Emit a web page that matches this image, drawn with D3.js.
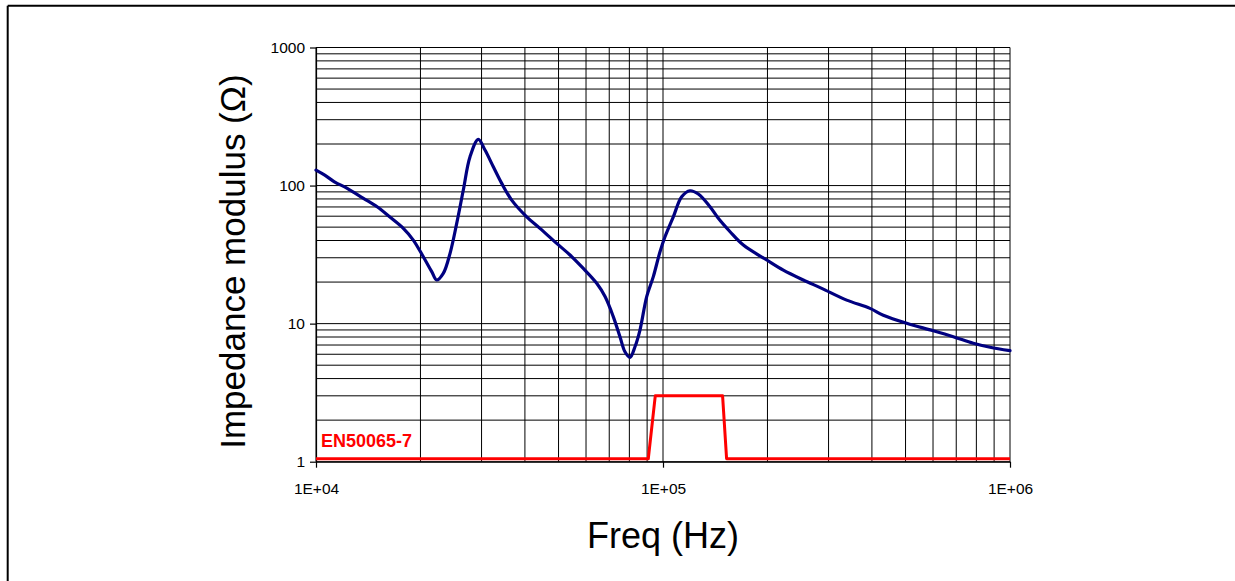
<!DOCTYPE html>
<html>
<head>
<meta charset="utf-8">
<script src="https://cdn.jsdelivr.net/npm/d3@7"></script>
<style>
  html, body { margin: 0; padding: 0; background: #fff; }
  svg { display: block; }
  text { font-family: "Liberation Sans", Arial, sans-serif; }
</style>
</head>
<body>
<svg id="chart" width="1235" height="581"></svg>
<script>
// Measured impedance modulus of the line coupling network versus frequency
const freqHz = [
  10000, 10600, 11300, 12300, 13700, 15000, 16300, 17850, 19070, 20380,
  21550, 22270, 23270, 24340, 25440, 26580, 27790, 29360, 30690, 32430,
  34290, 36640, 40480, 44200, 49390, 53950, 58930, 64410, 68070, 71930,
  75160, 77690, 80330, 83040, 85830, 89750, 93780, 98040, 101340, 107090,
  113200, 119640, 126400, 136600, 144340, 156060, 170400, 199000, 222200, 253700,
  286700, 338300, 394900, 431400, 503900, 601100, 686400, 783900, 876000, 1000000
];
const impedanceOhm = [
  129.5, 119.1, 106.5, 95.5, 80.8, 70.2, 59.4, 49.0, 40.3, 30.5,
  23.8, 20.7, 23.1, 32.3, 53.2, 92.8, 161.6, 216, 180.7, 136.8,
  103.7, 78.5, 59.4, 49.0, 38.1, 31.4, 25.1, 19.6, 15.7, 11.2,
  8.04, 6.26, 5.70, 6.80, 8.99, 15.7, 21.9, 33.2, 42.6, 59.4,
  83.0, 91.7, 86.8, 70.2, 57.9, 46.3, 37.1, 28.9, 24.4, 20.7,
  18.0, 14.8, 12.9, 11.5, 10.05, 8.88, 8.04, 7.20, 6.74, 6.37
];

// EN50065-7 minimum impedance template
const limitFreqHz = [10000, 90700, 95000, 148500, 152500, 1000000];
const limitOhm = [1.05, 1.05, 3, 3, 1.05, 1.05];
const limitLabel = "EN50065-7";

// Axis ticks
const xMajorTicks = [1e4, 1e5, 1e6];
const xTickLabels = ["1E+04", "1E+05", "1E+06"];
const yMajorTicks = [1, 10, 100, 1000];
const yTickLabels = ["1", "10", "100", "1000"];

const xTitle = "Freq (Hz)";
const yTitle = "Impedance modulus (\u03A9)";

const svg = d3.select("#chart");

// Page frame (top and left edges)
svg.append("line").attr("x1", 7.7).attr("x2", 1235).attr("y1", 5.7).attr("y2", 5.7)
  .attr("stroke", "#000").attr("stroke-width", 2);
svg.append("line").attr("x1", 7.7).attr("x2", 7.7).attr("y1", 5.7).attr("y2", 581)
  .attr("stroke", "#000").attr("stroke-width", 2);

const plot = { left: 316, right: 1010, top: 47.5, bottom: 461.7 };

const x = d3.scaleLog().domain([1e4, 1e6]).range([plot.left, plot.right]);
const y = d3.scaleLog().domain([1, 1000]).range([plot.bottom, plot.top]);

// Log grid: every 1..9 within each decade
const decadeGrid = (lo, hi) => {
  const out = [];
  for (let d = lo; d < hi; d *= 10) for (let m = 1; m < 10; m++) out.push(d * m);
  out.push(hi);
  return out;
};
const xGrid = decadeGrid(1e4, 1e6);
const yGrid = decadeGrid(1, 1000);

const grid = svg.append("g").attr("stroke", "#000").attr("stroke-width", 1);
grid.selectAll("line.v").data(xGrid).join("line").attr("class", "v")
  .attr("x1", d => x(d)).attr("x2", d => x(d))
  .attr("y1", plot.top).attr("y2", plot.bottom);
grid.selectAll("line.h").data(yGrid).join("line").attr("class", "h")
  .attr("x1", plot.left).attr("x2", plot.right)
  .attr("y1", d => y(d)).attr("y2", d => y(d));

// Axes
const yAxis = d3.axisLeft(y).tickValues(yMajorTicks)
  .tickFormat((d, i) => yTickLabels[i]).tickSizeInner(6).tickSizeOuter(0).tickPadding(5);
const xAxis = d3.axisBottom(x).tickValues(xMajorTicks)
  .tickFormat((d, i) => xTickLabels[i]).tickSizeInner(6).tickSizeOuter(0).tickPadding(15);

const gy = svg.append("g").attr("transform", `translate(${plot.left},0)`).call(yAxis);
const gx = svg.append("g").attr("transform", `translate(0,${plot.bottom})`).call(xAxis);
[gx, gy].forEach(g => {
  g.selectAll("path.domain").attr("stroke", "#000").attr("stroke-width", 1.2);
  g.selectAll(".tick line").attr("stroke", "#000").attr("stroke-width", 1.2);
  g.selectAll(".tick text").attr("fill", "#000")
    .style("font-family", "'Liberation Sans', Arial, sans-serif").style("font-size", "15.5px");
});

// Series
const lineGen = d3.line().x(d => x(d[0])).y(d => y(d[1]));

svg.append("path")
  .datum(limitFreqHz.map((f, i) => [f, limitOhm[i]]))
  .attr("fill", "none").attr("stroke", "#ff0000").attr("stroke-width", 3)
  .attr("stroke-linejoin", "round")
  .attr("d", lineGen);

svg.append("path")
  .datum(freqHz.map((f, i) => [f, impedanceOhm[i]]))
  .attr("fill", "none").attr("stroke", "#000080").attr("stroke-width", 3.2)
  .attr("stroke-linejoin", "round").attr("stroke-linecap", "round")
  .attr("d", lineGen.curve(d3.curveCatmullRom.alpha(0.5)));

// Limit label
svg.append("text")
  .attr("x", x(1e4) + 5).attr("y", y(1.05) - 12)
  .attr("fill", "#ff0000").style("font-weight", "bold").style("font-size", "18px")
  .text(limitLabel);

// Axis titles
svg.append("text")
  .attr("x", (plot.left + plot.right) / 2).attr("y", 548)
  .attr("text-anchor", "middle").style("font-size", "36px").attr("fill", "#000")
  .text(xTitle);

svg.append("text")
  .attr("transform", `translate(245,${(plot.top + plot.bottom) / 2 + 7}) rotate(-90)`)
  .attr("text-anchor", "middle").style("font-size", "35px").attr("fill", "#000")
  .text(yTitle);
</script>
</body>
</html>
